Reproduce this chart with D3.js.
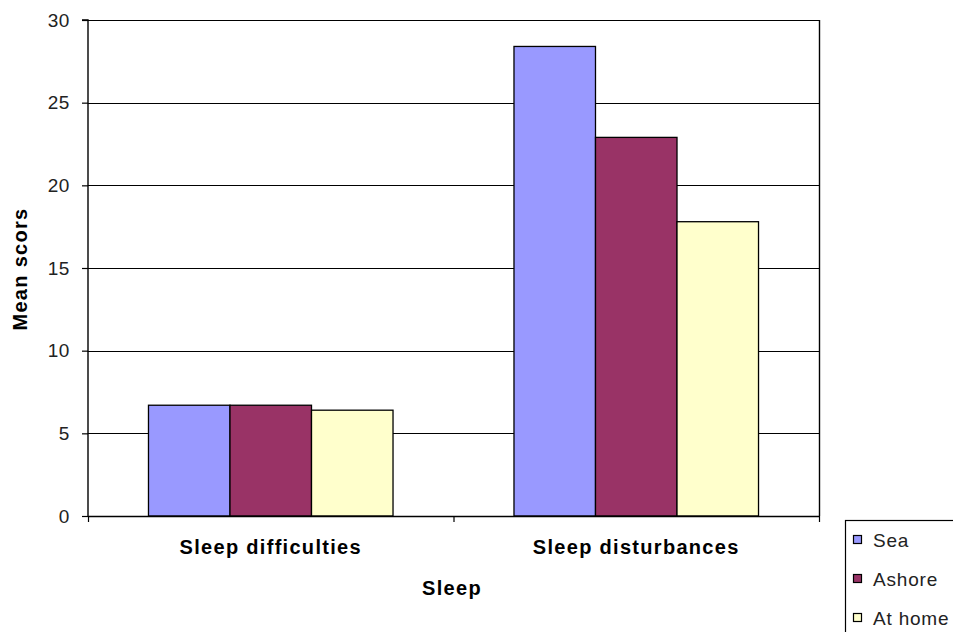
<!DOCTYPE html>
<html>
<head>
<meta charset="utf-8">
<script src="https://cdn.jsdelivr.net/npm/d3@7"></script>
<style>
  html, body { margin: 0; padding: 0; background: #fff; }
  svg { display: block; font-family: "Liberation Sans", Arial, sans-serif; }
</style>
</head>
<body>
<svg id="chart" width="953" height="632"></svg>
<script>
// Mean scores for sleep measures by location
const categories = ["Sleep difficulties", "Sleep disturbances"];
const seriesNames = ["Sea", "Ashore", "At home"];
const sea = [6.7, 28.4];
const ashore = [6.7, 22.9];
const atHome = [6.4, 17.8];
const colors = ["#9999FF", "#993366", "#FFFFCC"];
const yTicks = [0, 5, 10, 15, 20, 25, 30];

const seriesValues = [sea, ashore, atHome];

const svg = d3.select("#chart");
const plotLeft = 88, plotRight = 819, plotTop = 20, plotBottom = 516;

const x = d3.scaleBand().domain(categories).range([plotLeft, plotRight]).paddingInner(0).paddingOuter(0);
const x1 = d3.scaleBand().domain(seriesNames).range([0, x.bandwidth()]).paddingInner(0).paddingOuter(0.742);
const y = d3.scaleLinear().domain([0, 30]).range([plotBottom, plotTop]);

// horizontal gridlines
svg.append("g").selectAll("line").data(yTicks.filter(d => d > 0)).join("line")
  .attr("x1", plotLeft).attr("x2", plotRight)
  .attr("y1", d => Math.round(y(d)) + 0.5).attr("y2", d => Math.round(y(d)) + 0.5)
  .attr("stroke", "#000").attr("stroke-width", 1);

// bars
const groups = svg.append("g").selectAll("g").data(categories).join("g")
  .attr("transform", c => `translate(${x(c)},0)`);
groups.selectAll("rect")
  .data((c, i) => seriesNames.map((s, j) => ({ s, j, v: seriesValues[j][i] })))
  .join("rect")
  .attr("x", d => x1(d.s))
  .attr("width", x1.bandwidth())
  .attr("y", d => y(d.v))
  .attr("height", d => plotBottom - y(d.v))
  .attr("fill", d => colors[d.j])
  .attr("stroke", "#000").attr("stroke-width", 1.3);

// right border of plot area
svg.append("line").attr("x1", plotRight + 0.5).attr("x2", plotRight + 0.5)
  .attr("y1", plotTop).attr("y2", plotBottom).attr("stroke", "#000").attr("stroke-width", 1.4);

// y axis
const yAxis = d3.axisLeft(y).tickValues(yTicks).tickSize(6).tickPadding(12);
const gy = svg.append("g").attr("transform", `translate(${plotLeft},0)`).call(yAxis);
gy.select(".domain").attr("stroke-width", 1.4).attr("d", `M-6,${plotTop}H0V${plotBottom}`);
gy.selectAll(".tick line").attr("stroke-width", 1.2);
gy.selectAll(".tick text").attr("font-size", 19).attr("fill", "#222")
  .attr("font-family", "'Liberation Sans', Arial, sans-serif")
  .attr("letter-spacing", 0.6);

// x axis
const gx = svg.append("g").attr("transform", `translate(0,${plotBottom})`);
gx.append("line").attr("x1", plotLeft).attr("x2", plotRight).attr("y1", 0.5).attr("y2", 0.5)
  .attr("stroke", "#000").attr("stroke-width", 1.4);
const tickXs = [plotLeft].concat(categories.map(c => x(c) + x.bandwidth()));
gx.selectAll("line.tk").data(tickXs).join("line").attr("class", "tk")
  .attr("x1", d => d + 0.5).attr("x2", d => d + 0.5).attr("y1", 0).attr("y2", 6)
  .attr("stroke", "#000").attr("stroke-width", 1.2);
gx.selectAll("text").data(categories).join("text")
  .attr("x", c => x(c) + x.bandwidth() / 2).attr("y", 38)
  .attr("text-anchor", "middle").attr("font-size", 20).attr("font-weight", "bold")
  .attr("letter-spacing", 1.3)
  .text(c => c);

// axis titles
svg.append("text").attr("x", 452).attr("y", 595).attr("text-anchor", "middle")
  .attr("font-size", 20).attr("font-weight", "bold").attr("letter-spacing", 1.3).text("Sleep");
svg.append("text").attr("transform", "translate(27,269) rotate(-90)")
  .attr("text-anchor", "middle").attr("font-size", 20).attr("font-weight", "bold")
  .attr("letter-spacing", 1.3).text("Mean scors");

// legend
const lg = svg.append("g");
lg.append("rect").attr("x", 845.5).attr("y", 520.5).attr("width", 130).attr("height", 130)
  .attr("fill", "#fff").attr("stroke", "#000").attr("stroke-width", 1.2);
const items = lg.selectAll("g.item").data(seriesNames).join("g").attr("class", "item")
  .attr("transform", (d, i) => `translate(0,${547 + i * 39})`);
items.append("rect").attr("x", 853.5).attr("y", -11.5).attr("width", 8).attr("height", 8)
  .attr("fill", (d, i) => colors[i]).attr("stroke", "#000").attr("stroke-width", 1.2);
items.append("text").attr("x", 873).attr("y", 0).attr("font-size", 19)
  .attr("fill", "#222").attr("letter-spacing", 0.8).text(d => d);
</script>
</body>
</html>
